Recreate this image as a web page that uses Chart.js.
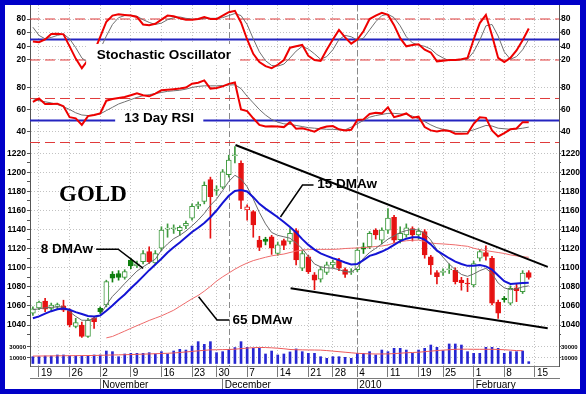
<!DOCTYPE html>
<html><head><meta charset="utf-8"><title>Gold</title>
<script src="https://cdn.jsdelivr.net/npm/chart.js@4.4.1/dist/chart.umd.min.js"></script>
<style>
html,body{margin:0;padding:0;background:#0000c8;width:586px;height:394px;overflow:hidden;}
#frame{position:absolute;left:5px;top:5px;width:575px;height:384px;background:#fff;overflow:visible;}
#c{display:block;}
</style></head><body>
<div id="frame"><canvas id="c" width="576" height="384"></canvas></div>
<script>
// ---- categories / tick labels ----
const dayLabels   = ['19','26','2','9','16','23','30','7','14','21','28','4','11','19','25','1','8','15'];
const dayTickPos  = [1,6,11,16,21,26,30,35,40,45,49,53,58,63,67,72,77,82];
const monthLabels = ['November','December','2010','February'];
const monthTickPos= [11,31,53,72];
const markerDays  = [32,53];
const stochTicks = [20,40,60,80];
const rsiTicks   = [40,60,80];
const priceTicks = [1040,1060,1080,1100,1120,1140,1160,1180,1200,1220];
const volTicks   = [10000,30000];

// ---- price series (trading days Oct 16 2009 .. Feb 12 2010) ----
const open = [1052.5,1058,1065,1057.5,1059.5,1060,1055,1038.5,1040,1028,1047,1057.5,1061,1093.5,1094,1090,1108,1102,1106.5,1117,1105,1120.5,1140.5,1141,1139,1144,1152,1164.7,1169.5,1192.5,1181,1184.5,1197.5,1217.5,1209.5,1160.6,1158.8,1129,1130,1132.5,1115,1128.5,1127.5,1139,1099.5,1111.5,1092.5,1088,1095,1103,1108,1098,1095,1098,1122,1122,1139.5,1129,1139.5,1153,1129.5,1134.5,1141,1134.5,1138,1111.5,1095,1095,1098,1097.5,1087,1084,1082,1110,1116,1110,1064,1068,1063,1079,1075,1095];
const high = [1059,1065,1068,1063,1063,1066,1057,1047,1043,1047,1049,1059,1087,1096,1097,1098,1110,1107,1118,1122,1118,1143,1146,1145,1144,1149,1167,1169,1190,1195,1186,1203,1218,1227,1212,1166,1160,1133,1132,1134,1127,1130,1141,1141,1118,1113,1095,1101,1106,1108,1110,1100,1099,1121,1126,1138,1141,1142,1162,1155,1143,1146,1143,1141,1140,1113,1097,1099,1104,1100,1090,1089,1107,1119,1123,1112,1066,1070,1081,1083.5,1097,1097];
const low  = [1050,1056,1054,1055,1056,1054,1038,1037,1027,1027,1036.5,1052,1059,1085,1087,1088,1099,1100,1104,1104.5,1103,1118,1132,1136,1134,1141,1150,1162,1167,1131,1176,1183,1195,1210,1162,1150,1132,1118,1124,1114,1113,1119,1125,1103,1097,1094,1077,1085,1093,1100,1097,1090,1093,1096,1115,1120,1130,1125,1136,1126,1126,1132,1128,1130,1110,1093,1083,1092,1094,1083,1076.5,1075,1080,1107,1108,1061,1047,1064,1061,1064.5,1073,1088];
const close= [1057,1064,1056.5,1061,1061.5,1055.5,1040,1042.5,1028,1045,1043.5,1054,1085.5,1089,1090,1096,1102,1104,1115,1106.5,1115,1139.5,1141.5,1142,1142.5,1146.5,1164.5,1166.5,1186.5,1174.5,1182.5,1200.5,1213,1218.5,1170.5,1164,1144.8,1121.4,1127.5,1120.5,1124,1123.5,1136,1108.2,1115,1096,1087,1098,1103,1106,1099.5,1093,1096,1118.5,1119.5,1136,1134.5,1139.5,1152,1129,1136,1142,1134.5,1138.5,1113.5,1103,1090.7,1096.5,1099,1085.5,1084.5,1083,1104.5,1117,1112,1063,1052.5,1066.5,1078.5,1076,1094.5,1090];
const dma8  = [1056,1057,1058,1058.5,1059,1059,1054,1049,1045,1045,1046.5,1050.5,1061,1070,1076.5,1083.5,1090,1096.5,1101,1105,1109,1118.5,1125,1130.5,1134,1138.5,1144,1150,1157,1165.5,1172,1181,1190.5,1197,1193,1185,1172,1158,1146,1137,1134,1132.5,1131,1126,1120,1112,1104,1101,1100,1099.5,1098,1096,1095.5,1100,1110,1116,1120.4,1125,1130,1133.5,1137,1139,1140.3,1139.5,1136,1129,1119,1111,1104,1098,1093,1091,1093.5,1097,1099.4,1094,1084,1079,1077,1078,1080,1081];
const dma15 = [1047,1049,1052,1054.5,1056.5,1057.3,1056,1053.5,1051.5,1049.5,1049,1050,1055,1060.5,1066.5,1072,1078.5,1084.5,1091,1097.5,1103.5,1109.5,1116,1121.5,1126.5,1132,1137.5,1142,1147,1153,1160,1168,1175.5,1180.5,1181.5,1180,1174,1167,1162,1157.5,1153,1148,1142.7,1137,1130,1124,1119,1115,1112.5,1110,1108,1105.5,1103.5,1104,1108,1112.5,1114.5,1117,1120,1124,1128,1130.5,1132,1132,1129.5,1124.5,1118,1114,1110,1106.5,1104,1102,1102,1103,1101.5,1098,1092,1086,1083,1083.5,1084,1084.4];
const dma65 = [null,null,null,null,null,null,null,null,null,null,null,null,1026.5,1028,1030.8,1033.6,1036.5,1039.3,1042,1044.8,1047.2,1049.6,1052.5,1055.5,1059.5,1063.5,1067.5,1071,1075.5,1080.5,1086,1090.5,1094.5,1098.5,1102,1105,1107.5,1109.3,1111,1112.5,1113.5,1114.4,1116,1117.5,1118.6,1119,1119.2,1119.3,1119.3,1119.3,1119.6,1120.2,1120.5,1120.8,1121.2,1121.6,1122.3,1122.8,1124,1126,1127.4,1128.3,1128.8,1129,1127.5,1126,1125.3,1125,1124.5,1124,1123.2,1122.5,1120.5,1119,1118,1117,1116,1115,1113.5,1112.5,1111.5,1111];
const volume = [12400,12400,13600,13600,15500,15500,13600,13600,13600,13600,15500,15500,22700,21500,12400,17300,18500,18500,18500,19700,17300,21500,17300,22700,25800,24500,31800,39700,34800,39700,19700,21500,25800,29000,39700,29400,27600,27600,17300,22700,15500,17300,21000,26500,21500,18500,18500,12400,9400,12400,12400,11200,9400,18500,18500,21500,15500,24500,21500,27600,27600,24500,18500,24500,27600,33600,29400,23300,35500,35500,33600,21500,18500,18500,29400,29400,27600,18500,21500,21500,22700,3300];
const volMA = [13500,13600,13700,13800,14000,14100,14200,14300,14400,14500,14600,14800,15200,15500,15700,16000,16300,16600,17000,17400,17800,18200,18600,19200,20000,21000,22000,23000,24000,24800,25000,25200,25500,26000,27000,28000,28800,29200,29000,28500,27800,26800,25500,25000,24800,24600,24500,24300,23500,22500,21500,20500,19500,18500,18000,17500,17300,17300,17500,18000,18700,19500,20000,20500,21500,22500,23500,24300,25000,25800,26000,26000,25800,25800,25800,25800,25500,25000,24300,23500,23300,null];
const stochK = [47,46,50,58,58.5,57.5,40,22,8,20,32,54,76,85,87,86,85,83,72,71,73,79,85,84,81,79,79,80,83,80,80,85,90,92,75,50,29,17,11,8,13,20,38,40,42,26,20,18.5,35,50,64,53,44,50,62,80,85,89,86,71,52,40,42,43,35,31,18,19,20,20,21,23,50,74,86,56,23,17,23,34,49,66];
const stochD = [68,56,51,53,56,58,51,38,23,16,20,36,55,72,82,85,85.5,84,79,75,72,74,79,82,83,81,80,79.5,81,81,81,82,85,88,85,72,51,32,19,12,11,14,23,33,40,36,29,21,25,35,50,56,54,49,52,64,76,85,87,82,70,54,45,42,40,36,28,23,19,20,20,21,32,49,70,72,55,32,21,25,35,50];
const rsi   = [67,70,65,65,65.3,63,53,52,46,54,55,56.5,68,69.5,70.4,71.3,73,74.7,73,72,74.5,77.5,78,78.5,79,80,83.5,84.3,86.5,79,79.5,81,83.3,84.5,60,58.5,52,46,44.5,44.8,44.6,44,48.5,42.5,43,41.5,39.8,43,44.5,45,42,41,41.5,50.5,51,56,57,56.5,62,53,54.5,56.4,52.5,53.5,44,41,40,41.2,40.5,38,38,38.2,47,53,52.4,41,35.5,38.5,42,42.7,48.5,48.4];
const rsiMA = [70,68,67,66,64.5,62.5,60,57,55,54.5,55,56,59,62,65,67,69,71,72.5,73.5,74.5,75.5,76.5,77,77.5,78.5,80,81,81.5,81.5,81.5,81.8,82.2,82.5,79,72,66,60,55,51,48.5,47,46.5,45.5,44.5,43.5,43,42.5,42,42,41.5,41.5,44,47,50,53,54.5,55.5,56.5,56.5,56,55.5,54,51.5,49,46,43.5,42,41,40,39.8,40,41.5,43.5,45.5,45,43,42.5,42,42.3,43,44];
const trendUpper = [[33.1,1228.7],[84.1,1101]];
const trendLower = [[42.1,1078.5],[84.1,1036.5]];

// ---- annotations (data coordinates) ----
const labelBoxes = [
  {axis:'yS', x0:8.7, x1:33.6, y0:43.4, y1:14.1},
  {axis:'yR', x0:13.44, x1:27.84, y0:58.6, y1:42.3}
];
const notes = [
  {text:'Stochastic Oscillator', axis:'yS', x:10.44, y:27.3, font:'bold 13.5px "Liberation Sans"', base:'middle'},
  {text:'13 Day RSI', axis:'yR', x:14.91, y:52, font:'bold 13.5px "Liberation Sans"', base:'middle'},
  {text:'GOLD', axis:'yP', x:4.27, y:1170.3, font:'bold 23px "Liberation Serif"', base:'alphabetic'},
  {text:'8 DMAw', axis:'yP', x:1.28, y:1119.4, font:'bold 13.5px "Liberation Sans"', base:'middle'},
  {text:'15 DMAw', axis:'yP', x:46.45, y:1187.6, font:'bold 13.5px "Liberation Sans"', base:'middle'},
  {text:'65 DMAw', axis:'yP', x:32.6, y:1045.3, font:'bold 13.5px "Liberation Sans"', base:'middle'}
];
const leaders = [
  [[10.33,1119.4],[13.93,1119.4],[18.02,1099.4]],
  [[45.84,1186.8],[44.04,1186.8],[40.44,1153.2]],
  [[32.1,1045.3],[30.08,1045.3],[27.07,1069.7]]
];

// ---- build ----
const xMin = -0.47, xMax = 85.94;
const idx = close.map((_, i) => i);
const GREEN = '#3f9a3f', DKGREEN = '#0f7f0f', RED = '#e61212';
const candleColor = idx.map(i => (i === 0 || close[i] >= close[i-1]) ? (close[i] >= open[i] ? GREEN : DKGREEN) : RED);
const candleFill = idx.map(i => close[i] > open[i] ? '#ffffff' : candleColor[i]);
const pts = arr => idx.map(i => ({x:i, y:arr[i]}));
const line = (arr, axis, color, width, order) => ({type:'line', yAxisID:axis, data:pts(arr), borderColor:color, borderWidth:width, pointRadius:0, tension:0, fill:false, order:order});
const seg = (p, axis, color, width, dash, order) => ({type:'line', yAxisID:axis, data:p.map(q => ({x:q[0], y:q[1]})), borderColor:color, borderWidth:width, borderDash:dash, pointRadius:0, fill:false, order:order});
const hline = (v, axis, color, width, dash) => seg([[xMin, v],[xMax, v]], axis, color, width, dash, 30);

const datasets = [
  hline(80,'yS','#e03a3a',1,[10,5]), hline(20,'yS','#e03a3a',1,[10,5]), hline(50,'yS','#2424c0',2,[]),
  hline(70,'yR','#e03a3a',1,[10,5]), hline(30,'yR','#e03a3a',1,[10,5]), hline(50,'yR','#2424c0',2,[]),
  line(stochD,'yS','#707070',1,3), line(stochK,'yS','#ee0000',2,2),
  line(rsiMA,'yR','#707070',1,3), line(rsi,'yR','#ee0000',2,2),
  {type:'bar', yAxisID:'yP', data:idx.map(i => ({x:i, y:[low[i], high[i]]})), backgroundColor:candleColor, barThickness:1, grouped:false, order:12},
  {type:'bar', yAxisID:'yP', data:idx.map(i => ({x:i, y:[open[i], close[i]]})), backgroundColor:candleFill, borderColor:candleColor, borderWidth:1, borderSkipped:false, barThickness:5, grouped:false, order:11},
  line(dma65,'yP','#ee6b6b',1,6), line(dma8,'yP','#6a6a6a',1,5), line(dma15,'yP','#1414d4',2,4),
  seg(trendUpper,'yP','#000000',2,[],1), seg(trendLower,'yP','#000000',2,[],1),
  {type:'bar', yAxisID:'yV', data:pts(volume), backgroundColor:'#2626d2', barThickness:2, grouped:false, order:12},
  line(volMA,'yV','#ee5a5a',1,2)
];

function yAxis(pos, w, sw, min, max, tickVals, labelVals, fsize) {
  const left = pos === 'left';
  return {
    type:'linear', position:pos, stack:pos, stackWeight:sw, weight:w, min:min, max:max,
    afterBuildTicks: s => { s.ticks = tickVals.map(v => ({value:v})); },
    afterFit: s => { s.width = left ? 25 : 22; s.paddingTop = 0; s.paddingBottom = 0; },
    ticks:{autoSkip:false, padding: left ? 1 : 0, color:'#000', font:{family:'Liberation Sans', size:fsize, weight:'bold'},
      callback: v => labelVals.includes(v) ? String(v) : ''},
    grid:{drawOnChartArea:left, color: c => (c.tick && labelVals.includes(c.tick.value)) ? '#c2c2c2' : 'rgba(0,0,0,0)',
      tickLength: left ? 3 : 2, tickColor:'#555', tickBorderDash:[]},
    border:{color:'#555', dash:[1,2]}
  };
}
const priceMarks = priceTicks.concat(priceTicks.map(v => v - 10));

function xAxis(w, h, pos, labels, area) {
  return {
    type:'linear', position:'bottom', weight:w, min:xMin, max:xMax, offset:false,
    afterBuildTicks: s => { s.ticks = pos.map(v => ({value:v})); },
    afterFit: s => { s.height = h; s.paddingLeft = 0; s.paddingRight = 0; },
    ticks:{autoSkip:false, maxRotation:0, minRotation:0, align:'start', padding:-10, labelOffset:2, color:'#000',
      font:{family:'Liberation Sans', size:10}, callback: v => labels[pos.indexOf(v)]},
    grid:{offset:false, drawOnChartArea:area, color:'#c2c2c2', tickLength:11, tickColor:'#7a7a7a', tickBorderDash:[]},
    border:{color:'#7a7a7a', dash:[1,2]}
  };
}

const markerPlugin = {
  id:'markers',
  beforeDatasetsDraw(chart) {
    const {ctx, chartArea:a} = chart, xs = chart.scales.x;
    ctx.save();
    ctx.strokeStyle = '#8a8a8a'; ctx.lineWidth = 1; ctx.setLineDash([6,3]);
    markerDays.forEach(d => {
      const px = Math.round(xs.getPixelForValue(d)) + 0.5;
      ctx.beginPath(); ctx.moveTo(px, a.top); ctx.lineTo(px, a.bottom); ctx.stroke();
    });
    ctx.restore();
  }
};
const notePlugin = {
  id:'notes',
  afterDatasetsDraw(chart) {
    const ctx = chart.ctx, xs = chart.scales.x;
    ctx.save();
    ctx.fillStyle = '#ffffff';
    labelBoxes.forEach(b => {
      const ys = chart.scales[b.axis];
      const x0 = xs.getPixelForValue(b.x0), x1 = xs.getPixelForValue(b.x1);
      const y0 = ys.getPixelForValue(b.y0), y1 = ys.getPixelForValue(b.y1);
      ctx.fillRect(x0, y0, x1 - x0, y1 - y0);
    });
    ctx.strokeStyle = '#000'; ctx.lineWidth = 1.5;
    leaders.forEach(p => {
      ctx.beginPath();
      p.forEach((q, k) => {
        const px = xs.getPixelForValue(q[0]), py = chart.scales.yP.getPixelForValue(q[1]);
        if (k) ctx.lineTo(px, py); else ctx.moveTo(px, py);
      });
      ctx.stroke();
    });
    ctx.fillStyle = '#000'; ctx.textAlign = 'left';
    notes.forEach(n => {
      ctx.font = n.font; ctx.textBaseline = n.base;
      ctx.fillText(n.text, xs.getPixelForValue(n.x), chart.scales[n.axis].getPixelForValue(n.y));
    });
    ctx.restore();
  }
};

new Chart(document.getElementById('c'), {
  type:'bar',
  data:{datasets:datasets},
  options:{
    responsive:false, animation:false, events:[],
    layout:{padding:0, autoPadding:false},
    plugins:{legend:{display:false}, tooltip:{enabled:false}},
    scales:{
      x: xAxis(1, 12, dayTickPos, dayLabels, true),
      x2: xAxis(2, 11, monthTickPos, monthLabels, false),
      yS: yAxis('left', 4, 69, -0.5, 100.5, stochTicks, stochTicks, 8.5),
      yR: yAxis('left', 3, 70, 28.64, 92.27, rsiTicks, rsiTicks, 8.5),
      yP: yAxis('left', 2, 196, 1024.28, 1229.75, priceMarks, priceTicks, 8.5),
      yV: yAxis('left', 1, 26, -4545, 42723, volTicks, volTicks, 6),
      yS2: yAxis('right', 1, 69, -0.5, 100.5, stochTicks, stochTicks, 8.5),
      yR2: yAxis('right', 2, 70, 28.64, 92.27, rsiTicks, rsiTicks, 8.5),
      yP2: yAxis('right', 3, 196, 1024.28, 1229.75, priceMarks, priceTicks, 8.5),
      yV2: yAxis('right', 4, 26, -4545, 42723, volTicks, volTicks, 6)
    }
  },
  plugins:[markerPlugin, notePlugin]
});
</script>
</body></html>
